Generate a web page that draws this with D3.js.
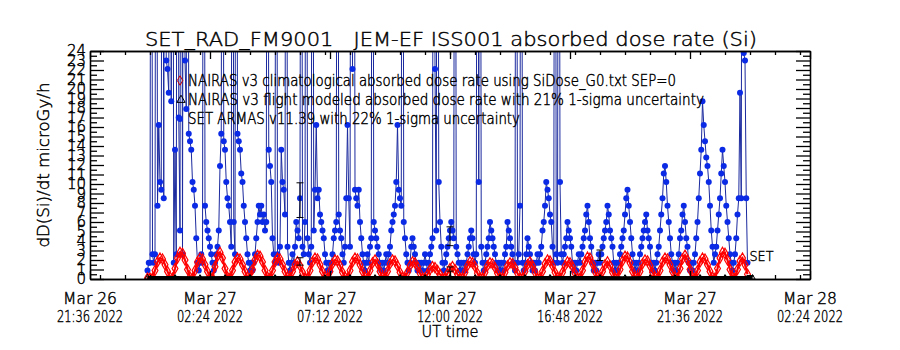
<!DOCTYPE html>
<html><head><meta charset="utf-8">
<script src="https://cdn.jsdelivr.net/npm/d3@7"></script>
<style>
body{margin:0;background:#fff}
svg{display:block}
text{font-family:"DejaVu Sans",sans-serif;font-weight:200;fill:#000;stroke:#000;stroke-width:0.45px;white-space:pre}
tspan.us{font-weight:400;stroke-width:0}
</style>
</head><body>
<svg id="c" width="900" height="350"></svg>
<script>
// ---------------- data ----------------
const xDomain = ["2022-03-26T21:36", "2022-03-28T02:24"];
const xTickTimes = ["2022-03-26T21:36","2022-03-27T02:24","2022-03-27T07:12","2022-03-27T12:00","2022-03-27T16:48","2022-03-27T21:36","2022-03-28T02:24"];
const xTickLine1 = ["Mar 26","Mar 27","Mar 27","Mar 27","Mar 27","Mar 27","Mar 28"];
const xTickLine2 = ["21:36 2022","02:24 2022","07:12 2022","12:00 2022","16:48 2022","21:36 2022","02:24 2022"];
const yDomain = [0, 24];
const yTickLabels = ["0","1","2","3","4","5","6","7","8","9","10","11","12","13","14","15","16","17","18","19","20","21","22","23","24"];

// SET ARMAS absorbed dose rate (microGy/h), 3-minute samples
const setStart = "2022-03-26T23:54";
const setStepMinutes = 3;
const setDose = [
 0.9,1.7,1.7,90,2.6,1.7,2.6,90,7.7,16.2,10.2,9.4,90,8.5,90,23.0,
 22.1,19.6,90,18.7,90,1.7,13.6,2.6,90,17.0,5.1,90,2.6,90,23.0,17.9,
 90,15.3,14.5,13.6,10.2,9.4,7.7,4.3,1.7,0.9,1.7,2.6,1.7,90,7.7,6.0,
 5.1,4.3,3.4,2.6,1.7,0.9,1.7,2.6,3.4,5.1,11.9,15.3,90,14.5,13.6,10.2,
 8.5,7.7,6.0,3.4,90,6.0,2.6,90,15.3,14.5,13.6,11.1,10.2,7.7,6.0,4.3,
 2.6,1.7,0.9,1.7,0.9,1.7,2.6,4.3,6.0,7.7,6.8,7.7,6.0,6.8,5.1,6.0,
 90,13.6,11.9,10.2,4.3,2.6,1.7,90,2.6,1.7,3.4,13.6,10.2,9.4,6.8,90,
 3.4,1.7,0.9,1.7,2.6,1.7,3.4,6.0,5.1,4.3,8.5,90,3.4,2.6,6.0,90,
 4.3,2.6,1.7,3.4,90,5.1,9.4,16.2,8.5,9.4,6.8,6.0,5.1,4.3,2.6,1.7,
 0.9,1.7,0.9,1.7,2.6,4.3,5.1,6.0,90,6.8,5.1,4.3,2.6,1.7,3.4,8.5,
 16.2,8.5,3.4,90,22.1,90,9.4,8.5,7.7,9.4,6.0,4.3,2.6,1.7,0.9,1.7,
 2.6,1.7,3.4,4.3,90,6.0,5.1,4.3,3.4,2.6,1.7,0.9,1.7,0.9,1.7,2.6,
 1.7,2.6,3.4,5.1,6.0,6.8,7.7,10.2,16.2,9.4,8.5,7.7,90,6.0,4.3,2.6,
 1.7,0.9,1.7,3.4,4.3,3.4,2.6,1.7,0.9,1.7,0.9,1.7,0.9,1.7,2.6,1.7,
 0.9,1.7,2.6,3.4,4.3,90,22.1,5.1,90,10.2,6.0,3.4,1.7,0.9,1.7,2.6,
 3.4,4.3,5.1,6.0,5.1,4.3,90,3.4,2.6,1.7,0.9,1.7,0.9,1.7,0.9,1.7,
 2.6,3.4,4.3,5.1,4.3,2.6,1.7,2.6,90,10.2,90,3.4,1.7,0.9,1.7,2.6,
 3.4,4.3,6.0,5.1,4.3,3.4,2.6,1.7,0.9,1.7,0.9,1.7,0.9,1.7,2.6,3.4,
 6.0,5.1,4.3,3.4,2.6,1.7,0.9,90,1.7,2.6,7.7,90,1.7,0.9,1.7,2.6,
 4.3,3.4,2.6,1.7,0.9,1.7,0.9,1.7,2.6,1.7,2.6,3.4,5.1,6.0,7.7,10.2,
 9.4,8.5,6.8,6.0,3.4,1.7,90,2.6,1.7,90,10.2,2.6,1.7,2.6,3.4,4.3,
 6.0,5.1,4.3,3.4,1.7,0.9,1.7,0.9,1.7,2.6,1.7,2.6,3.4,4.3,5.1,6.8,
 7.7,6.0,4.3,3.4,1.7,0.9,1.7,0.9,1.7,2.6,1.7,2.6,3.4,4.3,5.1,6.0,
 7.7,6.8,5.1,4.3,3.4,1.7,0.9,1.7,0.9,1.7,2.6,3.4,4.3,5.1,6.8,8.5,
 9.4,7.7,6.0,4.3,2.6,1.7,0.9,1.7,0.9,1.7,2.6,3.4,4.3,5.1,6.0,6.8,
 5.1,4.3,3.4,1.7,0.9,1.7,0.9,1.7,2.6,3.4,5.1,6.8,8.5,11.1,11.9,10.2,
 7.7,6.0,4.3,2.6,1.7,0.9,1.7,0.9,1.7,2.6,4.3,5.1,6.8,7.7,6.0,4.3,
 3.4,1.7,0.9,1.7,0.9,1.7,2.6,4.3,6.0,8.5,11.1,13.6,18.7,16.2,14.5,12.8,
 11.9,10.2,7.7,5.1,3.4,1.7,2.6,3.4,5.1,6.8,8.5,11.1,13.6,11.9,10.2,7.7,
 6.0,4.3,2.6,1.7,0.9,1.7,2.6,4.3,6.8,8.5,19.6,8.5,90,23.8,23.0,8.5,
 1.7
];

// NAIRAS v3 climatological absorbed dose rate, 6-minute samples
const nairasStart = "2022-03-26T23:54";
const nairasStepMinutes = 6;
const nairasDose = [
 0.1,0.1,
 0.1,0.9,1.8,2.2,2.1,1.5,0.8,0.2,
 0.1,1.1,2.2,2.8,2.7,2.0,1.0,0.2,
 0.1,0.9,1.8,2.2,2.1,1.5,0.8,0.2,
 0.1,1.3,2.4,2.8,2.2,1.1,0.2,
 0.1,0.9,1.8,2.2,2.1,1.5,0.8,0.2,
 0.1,1.0,2.0,2.5,2.4,1.8,0.9,0.2,
 0.1,0.9,1.8,2.2,2.1,1.5,0.8,0.2,
 0.1,0.8,1.5,1.8,1.4,0.7,0.1,
 0.1,0.9,1.8,2.2,2.1,1.5,0.8,0.2,
 0.1,0.8,1.6,2.0,1.9,1.4,0.7,0.2,
 0.1,0.9,1.8,2.2,2.1,1.5,0.8,0.2,
 0.1,0.9,1.7,2.0,1.6,0.8,0.2,
 0.1,0.8,1.6,2.0,1.9,1.4,0.7,0.2,
 0.1,0.7,1.4,1.8,1.7,1.3,0.6,0.1,
 0.1,0.5,1.0,1.3,1.2,0.9,0.5,0.1,
 0.1,0.6,1.1,1.3,1.0,0.5,0.1,
 0.1,0.7,1.4,1.8,1.7,1.3,0.6,0.1,
 0.1,0.7,1.4,1.7,1.6,1.2,0.6,0.1,
 0.1,0.7,1.4,1.7,1.6,1.2,0.6,0.1,
 0.1,0.8,1.5,1.8,1.4,0.7,0.1,
 0.1,0.8,1.6,2.0,1.9,1.4,0.7,0.2,
 0.1,0.7,1.4,1.8,1.7,1.3,0.6,0.1,
 0.1,0.9,1.8,2.3,2.2,1.6,0.8,0.2,
 0.1,0.8,1.5,1.8,1.4,0.7,0.1,
 0.1,1.0,1.9,2.4,2.3,1.7,0.8,0.2,
 0.1,0.8,1.6,2.0,1.9,1.4,0.7,0.2,
 0.1,0.9,1.8,2.2,2.1,1.5,0.8,0.2,
 0.1,1.1,2.1,2.5,2.0,1.0,0.2,
 0.1,0.9,1.8,2.2,2.1,1.5,0.8,0.2,
 0.1,1.1,2.2,2.8,2.7,2.0,1.0,0.2,
 0.1,1.0,1.9,2.2,1.5,0.5
];

// NAIRAS v3 flight modeled absorbed dose rate (hourly)
const flightTimes = ["2022-03-26T23:54","2022-03-27T01:00","2022-03-27T02:00","2022-03-27T03:00","2022-03-27T04:00","2022-03-27T05:00","2022-03-27T06:00","2022-03-27T07:00","2022-03-27T08:00","2022-03-27T09:00","2022-03-27T10:00","2022-03-27T11:00","2022-03-27T12:00","2022-03-27T13:00","2022-03-27T14:00","2022-03-27T15:00","2022-03-27T16:00","2022-03-27T17:00","2022-03-27T18:00","2022-03-27T19:00","2022-03-27T20:00","2022-03-27T21:00","2022-03-27T22:00","2022-03-27T23:00","2022-03-28T00:06"];
const flightDose = [0.15,0.15,0.14,0.15,0.16,0.15,0.15,0.14,0.15,0.15,0.16,0.15,0.15,0.14,0.15,0.15,0.16,0.15,0.15,0.14,0.15,0.15,0.16,0.15,0.15];

// error bars
const setErrTimes = ["2022-03-27T06:00","2022-03-27T12:00","2022-03-27T18:00"];
const setErrDose = [8.3, 4.5, 2.5];
const setErrFrac = 0.22;
const flightErrTimes = ["2022-03-27T06:00","2022-03-27T12:00","2022-03-28T00:00"];
const flightErrDose = [1.85, 1.05, 0.3];
const flightErrFrac = 0.21;

const titleText = "SET_RAD_FM9001   JEM-EF ISS001 absorbed dose rate (Si)";
const yLabel = "dD(Si)/dt microGy/h";
const xLabel = "UT time";
const legendItems = [
  "NAIRAS v3 climatological absorbed dose rate using SiDose_G0.txt SEP=0",
  "NAIRAS v3 flight modeled absorbed dose rate with 21% 1-sigma uncertainty",
  "SET ARMAS v11.39 with 22% 1-sigma uncertainty"
];

// ---------------- drawing ----------------
const parse = d3.utcParse("%Y-%m-%dT%H:%M");
const svg = d3.select("#c");
const L = 90, R = 810, T = 51, B = 279;
const x = d3.scaleUtc().domain(xDomain.map(parse)).range([L, R]);
const y = d3.scaleLinear().domain(yDomain).range([B, T]);

// text with underscores rendered in a heavier weight so they stay visible
function richText(sel, s){
  s.split(/(_)/).forEach(part=>{
    if(part==="") return;
    const ts = sel.append("tspan").text(part);
    if(part==="_") ts.attr("class","us");
  });
  return sel;
}

svg.append("rect").attr("width",900).attr("height",350).attr("fill","#fff");
svg.append("defs").append("clipPath").attr("id","plot")
  .append("rect").attr("x",L).attr("y",T).attr("width",R-L).attr("height",B-T);

const setStartDate = parse(setStart);
const setData = setDose.map((v,i)=>({t:new Date(+setStartDate + i*setStepMinutes*60000), v}));
const nStartDate = parse(nairasStart);
const nData = nairasDose.map((v,i)=>({t:new Date(+nStartDate + i*nairasStepMinutes*60000), v}));
const fData = flightDose.map((v,i)=>({t:parse(flightTimes[i]), v}));

const plot = svg.append("g").attr("clip-path","url(#plot)");
const line = d3.line().x(d=>x(d.t)).y(d=>y(d.v));

// SET ARMAS
plot.append("path").datum(setData).attr("d",line)
  .attr("fill","none").attr("stroke","#1b2a9e").attr("stroke-width",1);
plot.append("g").selectAll("circle").data(setData).join("circle")
  .attr("cx",d=>x(d.t)).attr("cy",d=>y(d.v)).attr("r",3)
  .attr("fill","#0a2ae6");

// NAIRAS climatological
plot.append("path").datum(nData).attr("d",line)
  .attr("fill","none").attr("stroke","#ff0000").attr("stroke-width",2.2);
const diamond = d3.symbol().type(d3.symbolDiamond).size(30);
plot.append("g").selectAll("path").data(nData).join("path")
  .attr("transform",d=>`translate(${x(d.t)},${y(d.v)})`).attr("d",diamond)
  .attr("fill","none").attr("stroke","#ff0000").attr("stroke-width",1.2);

// NAIRAS flight
plot.append("path").datum(fData).attr("d",line)
  .attr("fill","none").attr("stroke","#000").attr("stroke-width",3);
const tri = d3.symbol().type(d3.symbolTriangle).size(12);
plot.append("g").selectAll("path").data(fData).join("path")
  .attr("transform",d=>`translate(${x(d.t)},${y(d.v)})`).attr("d",tri)
  .attr("fill","none").attr("stroke","#000").attr("stroke-width",1);

// error bars
function errBars(times, vals, frac){
  const g = svg.append("g").attr("stroke","#000").attr("stroke-width",1);
  times.forEach((ts,i)=>{
    const cx = x(parse(ts)), lo = y(vals[i]*(1-frac)), hi = y(vals[i]*(1+frac));
    g.append("line").attr("x1",cx).attr("x2",cx).attr("y1",lo).attr("y2",hi);
    g.append("line").attr("x1",cx-3.5).attr("x2",cx+3.5).attr("y1",lo).attr("y2",lo);
    g.append("line").attr("x1",cx-3.5).attr("x2",cx+3.5).attr("y1",hi).attr("y2",hi);
  });
}
errBars(setErrTimes, setErrDose, setErrFrac);
errBars(flightErrTimes, flightErrDose, flightErrFrac);

// series end label
const lastSet = setData[setData.length-1];
svg.append("text").attr("x",x(lastSet.t)+2).attr("y",y(1.9)).attr("font-size",14)
  .attr("textLength",24).attr("lengthAdjust","spacingAndGlyphs").text("SET");

// ---------------- axes ----------------
const majorX = xTickTimes.map(parse);
const minorX = d3.utcMinute.every(72).range(majorX[0], new Date(+majorX[6]+1));
function styleAxis(g){ g.selectAll("path,line").attr("stroke","#000").attr("stroke-width",1.3); g.selectAll("text").remove(); }
svg.append("g").attr("transform",`translate(0,${B})`).call(d3.axisBottom(x).tickValues(minorX).tickSize(-4).tickSizeOuter(0).tickFormat("")).call(styleAxis);
svg.append("g").attr("transform",`translate(0,${B})`).call(d3.axisBottom(x).tickValues(majorX).tickSize(-8).tickSizeOuter(0).tickFormat("")).call(styleAxis);
svg.append("g").attr("transform",`translate(0,${T})`).call(d3.axisTop(x).tickValues(minorX).tickSize(-4).tickSizeOuter(0).tickFormat("")).call(styleAxis);
svg.append("g").attr("transform",`translate(0,${T})`).call(d3.axisTop(x).tickValues(majorX).tickSize(-8).tickSizeOuter(0).tickFormat("")).call(styleAxis);

const majorY = yTickLabels.map(Number);
const minorY = majorY.slice(0,-1).map(v=>v+0.5);
svg.append("g").attr("transform",`translate(${L},0)`).call(d3.axisLeft(y).tickValues(majorY).tickSize(-14).tickSizeOuter(0).tickFormat("")).call(styleAxis);
svg.append("g").attr("transform",`translate(${L},0)`).call(d3.axisLeft(y).tickValues(minorY).tickSize(-7).tickSizeOuter(0).tickFormat("")).call(styleAxis);
svg.append("g").attr("transform",`translate(${R},0)`).call(d3.axisRight(y).tickValues(majorY).tickSize(-14).tickSizeOuter(0).tickFormat("")).call(styleAxis);
svg.append("g").attr("transform",`translate(${R},0)`).call(d3.axisRight(y).tickValues(minorY).tickSize(-7).tickSizeOuter(0).tickFormat("")).call(styleAxis);

// y tick labels
svg.append("g").selectAll("text").data(yTickLabels).join("text")
  .attr("x",86).attr("y",d=>y(+d)).attr("dy","0.36em").attr("text-anchor","end")
  .attr("font-size",15).text(d=>d);

// x tick labels
const xl = svg.append("g").attr("font-size",16).attr("text-anchor","middle");
majorX.forEach((t,i)=>{
  xl.append("text").attr("x",x(t)).attr("y",304).attr("textLength",54).attr("lengthAdjust","spacingAndGlyphs").text(xTickLine1[i]);
  xl.append("text").attr("x",x(t)).attr("y",322).attr("textLength",66).attr("lengthAdjust","spacingAndGlyphs").text(xTickLine2[i]);
});
svg.append("text").attr("x",(L+R)/2).attr("y",337).attr("text-anchor","middle").attr("font-size",16)
  .attr("textLength",57).attr("lengthAdjust","spacingAndGlyphs").text(xLabel);

// y label
svg.append("text").attr("transform",`translate(49,${(T+B)/2}) rotate(-90)`).attr("text-anchor","middle")
  .attr("font-size",16).attr("textLength",165).attr("lengthAdjust","spacingAndGlyphs").text(yLabel);

// title
richText(svg.append("text").attr("x",145).attr("y",46).attr("font-size",20)
  .attr("textLength",612).attr("lengthAdjust","spacingAndGlyphs"), titleText);

// legend
const legY = [80.5, 100, 119];
const legW = [488, 516, 332];
const lg = svg.append("g");
lg.append("path").attr("transform",`translate(180,${legY[0]})`).attr("d",d3.symbol().type(d3.symbolDiamond).size(26))
  .attr("fill","none").attr("stroke","#d00000").attr("stroke-width",1);
lg.append("path").attr("transform",`translate(181,${legY[1]})`).attr("d",d3.symbol().type(d3.symbolTriangle).size(30))
  .attr("fill","none").attr("stroke","#000").attr("stroke-width",1);
lg.append("circle").attr("cx",180).attr("cy",legY[2]).attr("r",3).attr("fill","#0a2ae6");
legendItems.forEach((s,i)=>{
  richText(lg.append("text").attr("x",188).attr("y",legY[i]).attr("dy","0.36em").attr("font-size",15)
    .attr("textLength",legW[i]).attr("lengthAdjust","spacingAndGlyphs"), s);
});
</script>
</body></html>
